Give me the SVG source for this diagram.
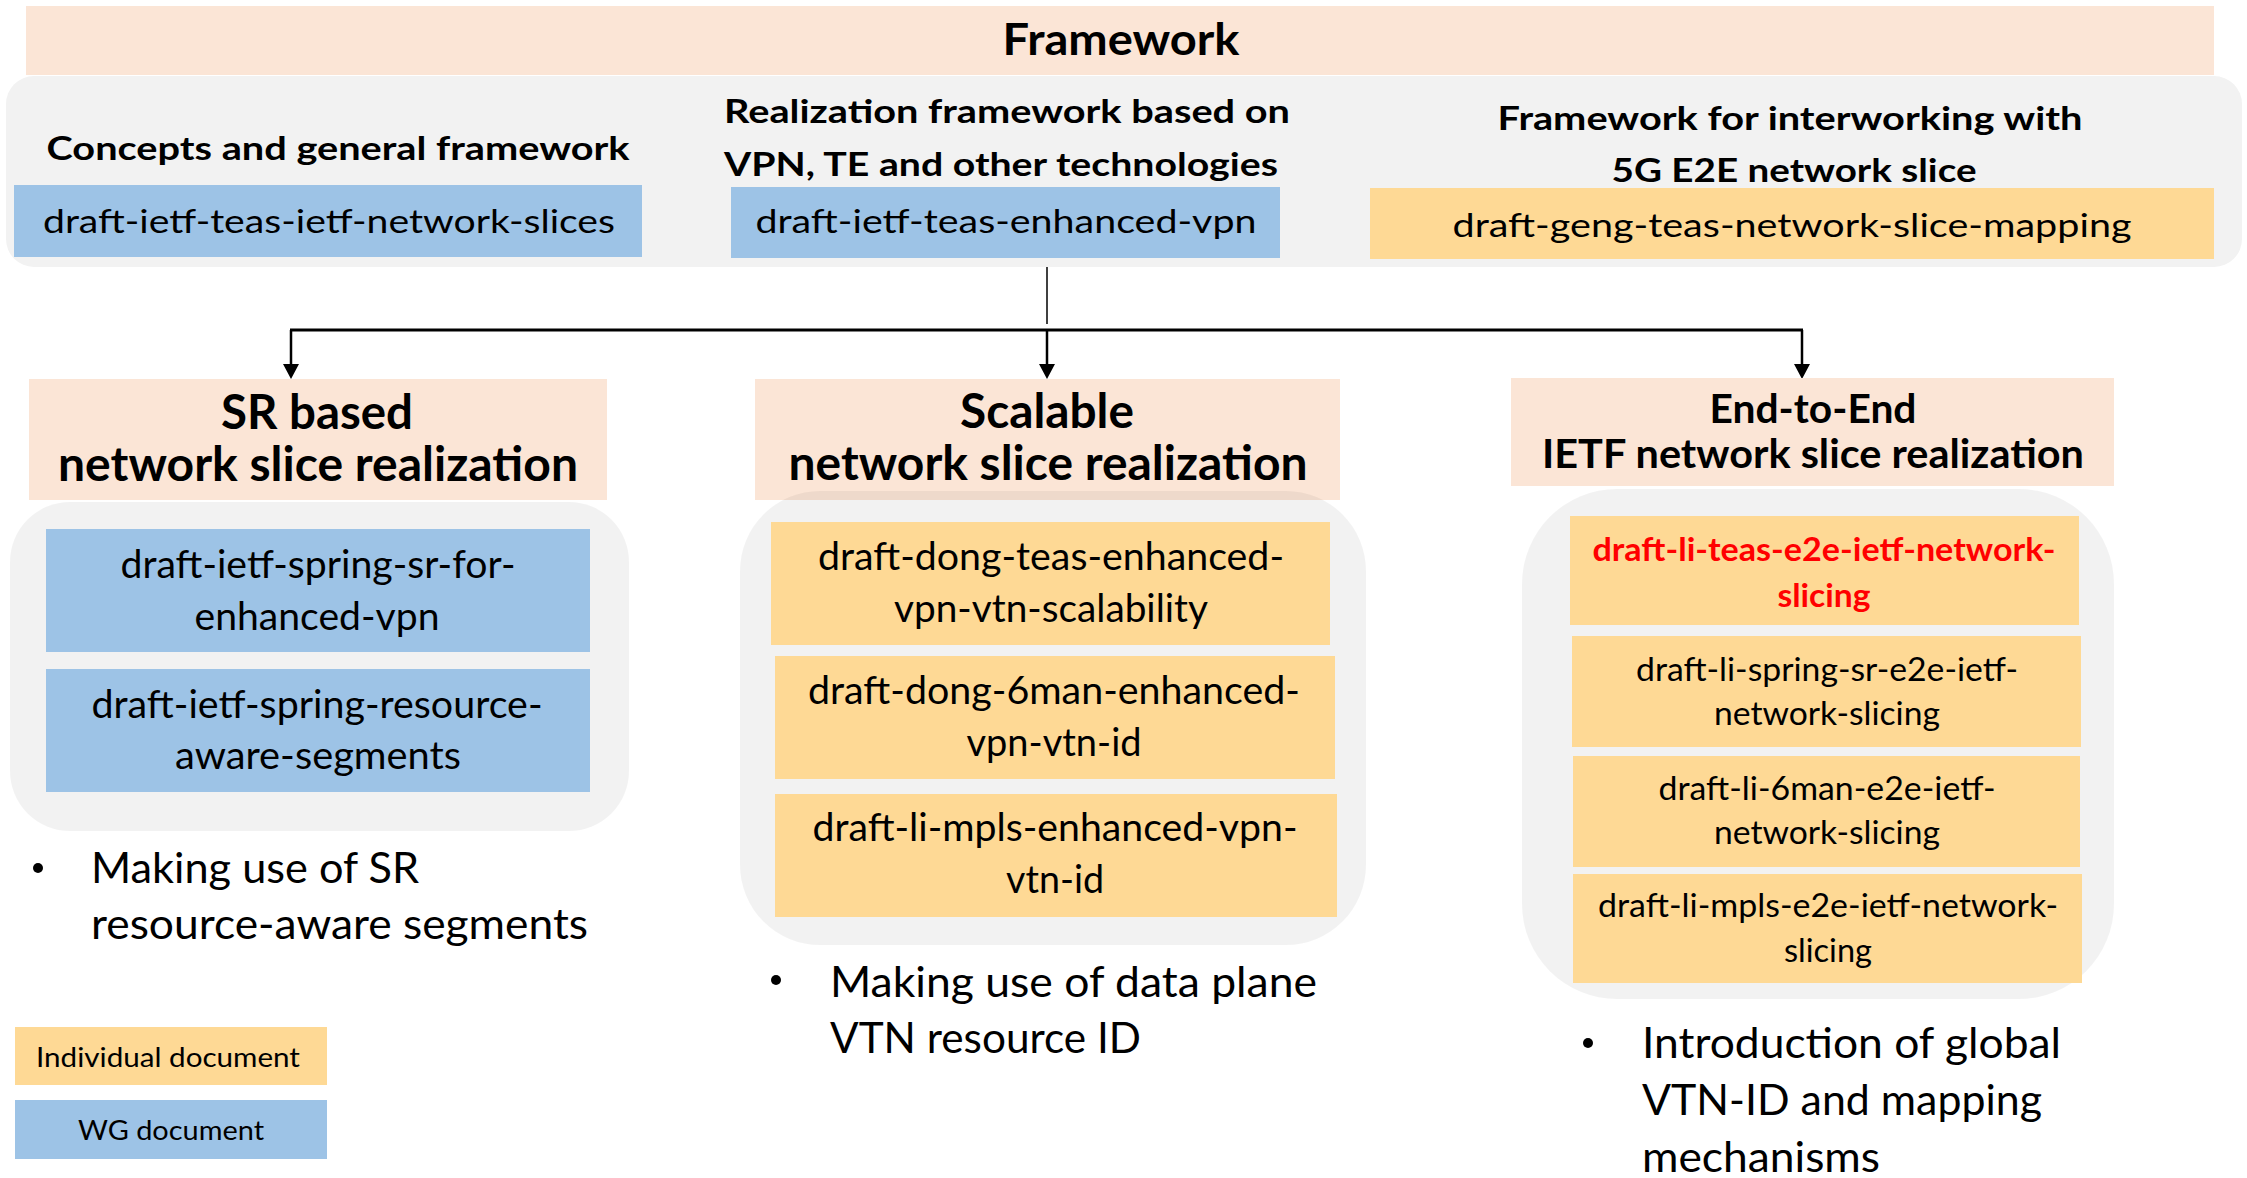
<svg xmlns="http://www.w3.org/2000/svg" width="2247" height="1178" viewBox="0 0 2247 1178">
<style>
text{font-family:Lato,"Liberation Sans",sans-serif;fill:#000;text-anchor:middle}
.b{font-weight:bold}
.ban{fill:#FBE5D6}
.blue{fill:#9DC3E6}
.ind{fill:#FED995}
.pan{fill:#000;fill-opacity:0.052}
.t1{font-size:43px}
.t2{font-size:33px}
.t3{font-size:47px}
.t4{font-size:40px}
.d37{font-size:38px}
.d32{font-size:33px}
.bul{font-size:42px;text-anchor:start}
.leg{font-size:27px}
.red{fill:#FF0000}
.con{stroke:#000;fill:none}
</style>
<defs>
<marker id="ah" viewBox="0 0 15 16" refX="0" refY="8" markerWidth="15" markerHeight="16" markerUnits="userSpaceOnUse" orient="auto">
<path d="M0,0 L15,8 L0,16 z" fill="#000"/>
</marker>
</defs>
<rect width="2247" height="1178" fill="#fff"/>

<g id="framework">
<rect class="ban" x="26" y="6" width="2188" height="69"/>
<text class="b t1" x="1121" y="55" textLength="237" lengthAdjust="spacingAndGlyphs">Framework</text>
</g>

<g id="framework-panel">
<rect x="6" y="76" width="2236" height="191" rx="28" fill="#F2F2F2"/>
</g>

<g id="concepts">
<text class="b t2" x="338" y="160" textLength="583" lengthAdjust="spacingAndGlyphs">Concepts and general framework</text>
<rect class="blue" x="14" y="185" width="628" height="72"/>
<text class="t2" x="329" y="233" textLength="572" lengthAdjust="spacingAndGlyphs">draft-ietf-teas-ietf-network-slices</text>
</g>

<g id="realization">
<text class="b t2" x="1007" y="123" textLength="566" lengthAdjust="spacingAndGlyphs">Realization framework based on</text>
<text class="b t2" x="1001" y="176" textLength="554" lengthAdjust="spacingAndGlyphs">VPN, TE and other technologies</text>
<rect class="blue" x="731" y="187" width="549" height="71"/>
<text class="t2" x="1006" y="233" textLength="501" lengthAdjust="spacingAndGlyphs">draft-ietf-teas-enhanced-vpn</text>
</g>

<g id="interworking">
<text class="b t2" x="1790" y="130" textLength="585" lengthAdjust="spacingAndGlyphs">Framework for interworking with</text>
<text class="b t2" x="1794" y="182" textLength="365" lengthAdjust="spacingAndGlyphs">5G E2E network slice</text>
<rect class="ind" x="1370" y="188" width="844" height="71"/>
<text class="t2" x="1792" y="237" textLength="679" lengthAdjust="spacingAndGlyphs">draft-geng-teas-network-slice-mapping</text>
</g>

<g id="connectors">
<line class="con" x1="1047" y1="267" x2="1047" y2="324" stroke-width="1.5"/>
<line class="con" x1="290" y1="330" x2="1803" y2="330" stroke-width="3"/>
<line class="con" x1="291" y1="330" x2="291" y2="364" stroke-width="2.5" marker-end="url(#ah)"/>
<line class="con" x1="1047" y1="330" x2="1047" y2="364" stroke-width="2.5" marker-end="url(#ah)"/>
<line class="con" x1="1802" y1="330" x2="1802" y2="364" stroke-width="2.5" marker-end="url(#ah)"/>
</g>

<g id="sr">
<rect class="ban" x="29" y="379" width="578" height="121"/>
<text class="b t3" x="317" y="429" textLength="192" lengthAdjust="spacingAndGlyphs">SR based</text>
<text class="b t3" x="318" y="481" textLength="520" lengthAdjust="spacingAndGlyphs">network slice realization</text>
<rect class="pan" x="10" y="502" width="619" height="329" rx="60"/>
<rect class="blue" x="46" y="529" width="544" height="123"/>
<text class="d37" x="318" y="578" textLength="395" lengthAdjust="spacingAndGlyphs">draft-ietf-spring-sr-for-</text>
<text class="d37" x="317" y="630" textLength="245" lengthAdjust="spacingAndGlyphs">enhanced-vpn</text>
<rect class="blue" x="46" y="669" width="544" height="123"/>
<text class="d37" x="317" y="718" textLength="451" lengthAdjust="spacingAndGlyphs">draft-ietf-spring-resource-</text>
<text class="d37" x="318" y="769" textLength="286" lengthAdjust="spacingAndGlyphs">aware-segments</text>
<circle cx="38" cy="868" r="5"/>
<text class="bul" x="91" y="883" textLength="328" lengthAdjust="spacingAndGlyphs">Making use of SR</text>
<text class="bul" x="91" y="939" textLength="497" lengthAdjust="spacingAndGlyphs">resource-aware segments</text>
</g>

<g id="scalable">
<rect class="ban" x="755" y="379" width="585" height="121"/>
<text class="b t3" x="1047" y="428" textLength="174" lengthAdjust="spacingAndGlyphs">Scalable</text>
<text class="b t3" x="1048" y="480" textLength="519" lengthAdjust="spacingAndGlyphs">network slice realization</text>
<rect class="pan" x="740" y="491" width="626" height="454" rx="80"/>
<rect class="ind" x="771" y="522" width="559" height="123"/>
<text class="d37" x="1051" y="570" textLength="466" lengthAdjust="spacingAndGlyphs">draft-dong-teas-enhanced-</text>
<text class="d37" x="1051" y="622" textLength="314" lengthAdjust="spacingAndGlyphs">vpn-vtn-scalability</text>
<rect class="ind" x="775" y="656" width="560" height="123"/>
<text class="d37" x="1054" y="704" textLength="492" lengthAdjust="spacingAndGlyphs">draft-dong-6man-enhanced-</text>
<text class="d37" x="1054" y="756" textLength="175" lengthAdjust="spacingAndGlyphs">vpn-vtn-id</text>
<rect class="ind" x="775" y="794" width="562" height="123"/>
<text class="d37" x="1055" y="841" textLength="485" lengthAdjust="spacingAndGlyphs">draft-li-mpls-enhanced-vpn-</text>
<text class="d37" x="1055" y="893" textLength="98" lengthAdjust="spacingAndGlyphs">vtn-id</text>
<circle cx="776" cy="980" r="5"/>
<text class="bul" x="830" y="997" textLength="487" lengthAdjust="spacingAndGlyphs">Making use of data plane</text>
<text class="bul" x="830" y="1053" textLength="311" lengthAdjust="spacingAndGlyphs">VTN resource ID</text>
</g>

<g id="e2e">
<rect class="ban" x="1511" y="378" width="603" height="108"/>
<text class="b t4" x="1813" y="423" textLength="207" lengthAdjust="spacingAndGlyphs">End-to-End</text>
<text class="b t4" x="1813" y="468" textLength="542" lengthAdjust="spacingAndGlyphs">IETF network slice realization</text>
<rect class="pan" x="1522" y="489" width="592" height="510" rx="95"/>
<rect class="ind" x="1570" y="516" width="509" height="109"/>
<text class="b d32 red" x="1824" y="561" textLength="463" lengthAdjust="spacingAndGlyphs">draft-li-teas-e2e-ietf-network-</text>
<text class="b d32 red" x="1824" y="607" textLength="93" lengthAdjust="spacingAndGlyphs">slicing</text>
<rect class="ind" x="1572" y="636" width="509" height="111"/>
<text class="d32" x="1827" y="681" textLength="382" lengthAdjust="spacingAndGlyphs">draft-li-spring-sr-e2e-ietf-</text>
<text class="d32" x="1827" y="725" textLength="226" lengthAdjust="spacingAndGlyphs">network-slicing</text>
<rect class="ind" x="1573" y="756" width="507" height="111"/>
<text class="d32" x="1827" y="800" textLength="337" lengthAdjust="spacingAndGlyphs">draft-li-6man-e2e-ietf-</text>
<text class="d32" x="1827" y="844" textLength="226" lengthAdjust="spacingAndGlyphs">network-slicing</text>
<rect class="ind" x="1573" y="874" width="509" height="109"/>
<text class="d32" x="1828" y="917" textLength="460" lengthAdjust="spacingAndGlyphs">draft-li-mpls-e2e-ietf-network-</text>
<text class="d32" x="1828" y="962" textLength="88" lengthAdjust="spacingAndGlyphs">slicing</text>
<circle cx="1588" cy="1043" r="5"/>
<text class="bul" x="1642" y="1058" textLength="419" lengthAdjust="spacingAndGlyphs">Introduction of global</text>
<text class="bul" x="1642" y="1115" textLength="400" lengthAdjust="spacingAndGlyphs">VTN-ID and mapping</text>
<text class="bul" x="1642" y="1172" textLength="238" lengthAdjust="spacingAndGlyphs">mechanisms</text>
</g>

<g id="legend-individual">
<rect class="ind" x="15" y="1027" width="312" height="58"/>
<text class="leg" x="168" y="1067" textLength="264" lengthAdjust="spacingAndGlyphs">Individual document</text>
</g>
<g id="legend-wg">
<rect class="blue" x="15" y="1100" width="312" height="59"/>
<text class="leg" x="171" y="1140" textLength="186" lengthAdjust="spacingAndGlyphs">WG document</text>
</g>
</svg>
